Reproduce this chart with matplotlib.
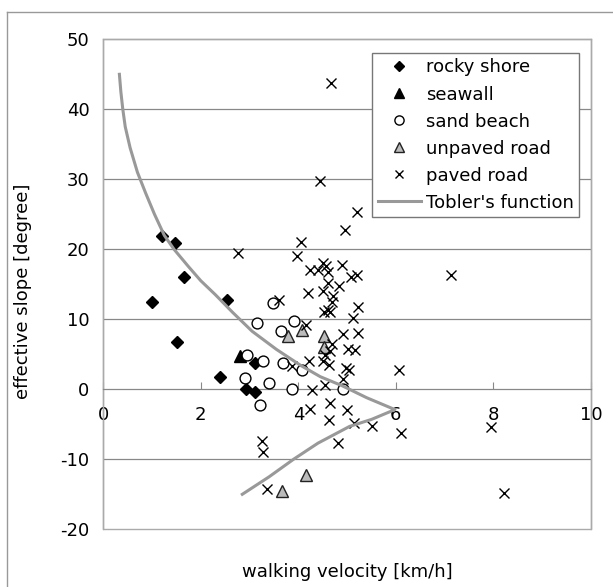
import matplotlib
matplotlib.use("Agg")
import matplotlib.pyplot as plt
from matplotlib.lines import Line2D
from matplotlib.patches import Rectangle

# data
rocky_x = [1.00, 1.21, 1.48, 1.66, 2.53, 1.52, 2.39, 2.92, 3.11, 3.12]
rocky_y = [12.5, 21.9, 20.9, 16.0, 12.8, 6.7, 1.7, 0.0, -0.4, 3.7]

seawall_x = [2.81]
seawall_y = [4.8]

sand_x = [3.48, 3.15, 3.90, 3.64, 2.94, 3.27, 3.68, 4.07, 2.90, 3.39, 3.87, 4.92, 3.21]
sand_y = [12.3, 9.5, 9.8, 8.3, 4.9, 4.0, 3.8, 2.8, 1.6, 0.9, 0.0, 0.0, -2.2]

unpaved_x = [3.79, 4.07, 4.53, 4.52, 4.16, 3.67]
unpaved_y = [7.6, 8.5, 7.6, 6.1, -12.2, -14.5]

paved_x = [4.66, 4.45, 5.20, 4.96, 4.05, 2.77, 3.98, 7.12, 4.24, 4.41,
           4.51, 4.56, 4.61, 4.90, 5.08, 5.20, 4.61, 4.84, 4.20, 4.51,
           4.70, 4.68, 3.61, 5.23, 4.61, 4.53, 4.65, 5.11, 4.16, 5.23,
           4.92, 4.68, 5.01, 5.17, 4.55, 4.65, 4.21, 4.51, 4.62, 3.87,
           4.97, 5.03, 4.92, 6.07, 4.55, 4.27, 4.24, 4.65, 5.00, 4.63,
           5.14, 5.50, 6.11, 7.95, 3.25, 3.28, 4.81, 3.36, 8.22]
paved_y = [43.8, 29.8, 25.4, 22.7, 21.0, 19.5, 19.0, 16.4, 17.1, 17.1,
           18.0, 17.6, 16.8, 17.8, 16.0, 16.3, 15.2, 14.8, 13.8, 14.0,
           13.3, 12.5, 12.7, 11.8, 11.4, 11.1, 11.1, 10.2, 9.2, 8.0,
           7.9, 6.4, 5.8, 5.6, 4.9, 5.4, 4.0, 4.0, 3.5, 3.3,
           3.1, 2.8, 1.5, 2.7, 0.6, -0.1, -2.8, -2.0, -2.9, -4.4,
           -4.8, -5.2, -6.3, -5.4, -7.4, -8.9, -7.7, -14.2, -14.8]

tobler_x = [0.33, 0.36, 0.40, 0.45, 0.55, 0.70, 0.87, 1.05, 1.25, 1.45,
            1.75, 2.00, 2.30, 2.65, 3.05, 3.55, 4.05, 4.45, 4.90, 5.40,
            5.98, 5.50, 5.05, 4.40, 3.90, 3.40, 2.85]
tobler_y = [45.0, 42.5, 40.0, 37.5, 34.5, 31.0, 28.0, 25.0, 22.0, 20.0,
            17.5, 15.5, 13.5, 11.0, 8.3, 5.7, 3.4, 1.8, 0.5, -1.2,
            -2.9, -4.3, -5.3, -7.7, -10.0, -12.5, -15.0]

W, H = 613, 587
plt.rcParams['font.family'] = ['DejaVu Sans']
plt.rcParams['axes.unicode_minus'] = False
fs = 13
fig = plt.figure(figsize=(W / 100, H / 100), dpi=100)

# outer chart frame (top and left edges visible)
fig.add_artist(Line2D([6.7 / W, 1.0], [1 - 11.7 / H, 1 - 11.7 / H], color='#999999', lw=1))
fig.add_artist(Line2D([6.7 / W, 6.7 / W], [0.0, 1 - 11.7 / H], color='#999999', lw=1))

left, right, top, bottom = 103.3, 591.0, 39.3, 529.3
ax = fig.add_axes([left / W, 1 - bottom / H, (right - left) / W, (bottom - top) / H])
ax.set_xlim(0, 10)
ax.set_ylim(-20, 50)

for y in [-10, 10, 20, 30, 40]:
    ax.axhline(y, color='#888888', lw=0.9, zorder=1)

for s in ['top', 'right', 'left']:
    ax.spines[s].set_color('#aaaaaa')
    ax.spines[s].set_linewidth(1.0)
ax.spines['bottom'].set_position(('data', 0))
ax.spines['bottom'].set_color('#888888')
ax.spines['bottom'].set_linewidth(0.9)
ax.add_patch(Rectangle((0, -20), 10, 70, fill=False, edgecolor='#aaaaaa', lw=1.0,
                       transform=ax.transData, clip_on=False, zorder=0))

ax.set_xticks(range(0, 11, 2))
ax.set_yticks(range(-20, 51, 10))
ax.tick_params(axis='x', direction='in', length=5, width=0.8, color='#888888',
               pad=12, labelsize=fs)
ax.tick_params(axis='y', length=0, pad=10, labelsize=fs)

ms_edge = 1.0
ax.plot(rocky_x, rocky_y, 'D', ms=6.3, color='black', label='rocky shore', zorder=3)
ax.plot(seawall_x, seawall_y, '^', ms=9, color='black', label='seawall', zorder=3)
ax.plot(sand_x, sand_y, 'o', ms=7.8, mfc='white', mec='black', mew=ms_edge,
        label='sand beach', zorder=3)
ax.plot(unpaved_x, unpaved_y, '^', ms=9, mfc='#bbbbbb', mec='#222222', mew=ms_edge,
        label='unpaved road', zorder=3)
ax.plot(paved_x, paved_y, 'x', ms=7.5, color='black', mew=1.0, label='paved road', zorder=4)
ax.plot(tobler_x, tobler_y, '-', color='#999999', lw=2.2, label="Tobler's function", zorder=5)

leg = ax.legend(loc='upper right', bbox_to_anchor=(579.3 / W, 1 - 52.7 / H),
                bbox_transform=fig.transFigure, borderaxespad=0, fontsize=fs,
                fancybox=False, framealpha=1, edgecolor='#777777', handlelength=2.4,
                handletextpad=0.25, labelspacing=0.5, borderpad=0.32, markerscale=0.85)
leg.get_frame().set_linewidth(1.0)

fig.text(23 / W, 1 - 291 / H, 'effective slope [degree]', rotation=90,
         ha='center', va='center', fontsize=fs)
fig.text(347 / W, 1 - 572 / H, 'walking velocity [km/h]', ha='center', va='center',
         fontsize=fs)

fig.savefig('out.png', dpi=100)
